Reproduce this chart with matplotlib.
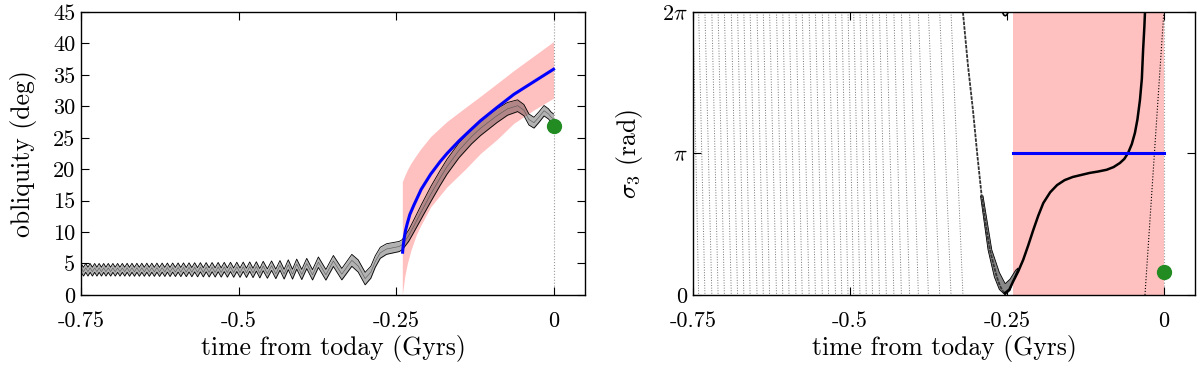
import numpy as np
import matplotlib
matplotlib.use("Agg")
import matplotlib.pyplot as plt

plt.rcParams['font.family'] = 'serif'
plt.rcParams['font.serif'] = ['cmr10']
plt.rcParams['mathtext.fontset'] = 'cm'
plt.rcParams['axes.unicode_minus'] = False

TWO_PI = 2 * np.pi

# ---- left panel: obliquity band (extrema of the fast oscillation, then the rise)
osc_t = [-0.750, -0.746, -0.7425, -0.739, -0.7355, -0.732, -0.7283, -0.7248, -0.7212, -0.7176,
         -0.7140, -0.7104, -0.7067, -0.7030, -0.6994, -0.6957, -0.6919, -0.6882, -0.6844, -0.6806,
         -0.6768, -0.6730, -0.6691, -0.6652, -0.6613, -0.6574, -0.6535, -0.6495, -0.6455, -0.6416,
         -0.6376, -0.6336, -0.6295, -0.6254, -0.6212, -0.6170, -0.6129, -0.6087, -0.6045, -0.6002,
         -0.5959, -0.5916, -0.5873, -0.5829, -0.5785, -0.5741, -0.5696, -0.5650, -0.5605, -0.5559,
         -0.5513, -0.5466, -0.5419, -0.5371, -0.5323, -0.5275, -0.5226, -0.5177, -0.5127, -0.5077,
         -0.5027, -0.4976, -0.4925, -0.4874, -0.4822, -0.4770, -0.4717, -0.4662, -0.4608, -0.4542,
         -0.4475, -0.4408, -0.4342, -0.4276, -0.4210, -0.4143, -0.4076, -0.3996, -0.3917, -0.3825,
         -0.3732, -0.3613, -0.3494, -0.3360, -0.3201, -0.3100, -0.2990,
         -0.290, -0.283, -0.275, -0.265, -0.255, -0.245, -0.240, -0.235, -0.230, -0.222, -0.210,
         -0.195, -0.180, -0.169, -0.150, -0.130, -0.116, -0.090, -0.073, -0.057, -0.047,
         -0.039, -0.031, -0.023, -0.015, -0.008, -0.004, 0.0]
osc_mid = [4.30, 3.70, 4.30, 3.70, 4.30, 3.70, 4.30, 3.70, 4.30, 3.70,
           4.30, 3.70, 4.30, 3.70, 4.30, 3.70, 4.30, 3.70, 4.30, 3.70,
           4.32, 3.68, 4.32, 3.68, 4.32, 3.68, 4.32, 3.68, 4.33, 3.67,
           4.33, 3.67, 4.34, 3.66, 4.34, 3.66, 4.35, 3.65, 4.35, 3.65,
           4.36, 3.64, 4.37, 3.63, 4.38, 3.62, 4.39, 3.61, 4.40, 3.60,
           4.41, 3.59, 4.42, 3.58, 4.43, 3.57, 4.44, 3.56, 4.45, 3.55,
           4.46, 3.54, 4.48, 3.52, 4.50, 3.50, 4.53, 3.45, 4.60, 3.40,
           4.65, 3.35, 4.70, 3.30, 4.80, 3.30, 4.90, 3.25, 5.00, 3.20,
           5.20, 3.20, 5.40, 3.30, 5.50, 4.60, 2.60,
           3.60, 5.30, 6.70, 7.30, 7.50, 7.70, 8.00, 8.70, 9.40, 10.90, 13.20,
           16.00, 18.60, 20.40, 23.00, 25.20, 26.50, 28.50, 29.60, 30.10, 29.40,
           27.90, 27.40, 28.30, 29.30, 28.80, 28.30, 28.00]
band_t = [-0.75, -0.45, -0.36, -0.30, -0.27, -0.24, -0.20, -0.10, -0.05, 0.0]
band_w = [1.4, 1.5, 1.7, 2.0, 1.7, 1.6, 2.4, 2.3, 1.8, 1.6]

# blue model curve
blue_t = [-0.2395, -0.2385, -0.237, -0.235, -0.232, -0.228, -0.222, -0.210, -0.195, -0.180,
          -0.169, -0.150, -0.130, -0.116, -0.090, -0.063, -0.030, 0.0]
blue_v = [6.8, 7.9, 9.0, 10.2, 11.4, 12.8, 14.2, 16.8, 19.2, 21.2, 22.5, 24.5, 26.4, 27.7,
          29.8, 31.9, 34.0, 35.9]

# pink uncertainty region
pink_t = [-0.240, -0.238, -0.236, -0.232, -0.226, -0.218, -0.211, -0.195, -0.169, -0.140,
          -0.116, -0.090, -0.063, -0.030, 0.0]
pink_hi = [18.0, 18.5, 19.0, 19.9, 21.0, 22.2, 23.2, 25.2, 27.6, 29.8, 31.6, 33.6, 35.7,
           38.1, 40.3]
pink_lo = [0.0, 1.5, 3.0, 5.0, 7.2, 9.5, 11.0, 14.0, 17.2, 20.0, 22.5, 24.7, 27.3, 29.5,
           31.3]

obl_today = 26.8

# ---- right panel: sigma_3 (times where it wraps from 2pi down to 0)
wrap_t = [-0.750, -0.741, -0.731, -0.720, -0.710, -0.700, -0.689, -0.679, -0.669, -0.659,
          -0.648, -0.638, -0.628, -0.617, -0.607, -0.597, -0.586, -0.576, -0.565, -0.555,
          -0.544, -0.534, -0.523, -0.513, -0.503, -0.494, -0.484, -0.474, -0.464, -0.453,
          -0.442, -0.430, -0.418, -0.405, -0.391, -0.375, -0.357, -0.339, -0.320]
dip_t = [-0.320, -0.312, -0.304, -0.297, -0.290, -0.283, -0.277, -0.271, -0.266, -0.261,
         -0.256, -0.253]
dip_v = [6.28, 5.10, 4.10, 3.10, 2.18, 1.50, 1.00, 0.66, 0.40, 0.20, 0.07, 0.04]
# spread of points around the turning point (outer and inner edge)
vout_t = [-0.292, -0.280, -0.270, -0.262, -0.2527, -0.245, -0.239, -0.232]
vout_v = [2.20, 1.00, 0.40, 0.12, 0.00, 0.10, 0.35, 0.60]
vin_t = [-0.288, -0.274, -0.262, -0.2527, -0.245, -0.236, -0.232]
vin_v = [2.20, 1.00, 0.50, 0.25, 0.35, 0.55, 0.60]
sig_t = [-0.253, -0.246, -0.240, -0.232, -0.224, -0.216, -0.208, -0.200, -0.192,
         -0.181, -0.170, -0.158, -0.145, -0.130, -0.118, -0.105, -0.091, -0.080, -0.070,
         -0.063, -0.057, -0.051, -0.046, -0.042, -0.038, -0.035, -0.033, -0.031, -0.030]
sig_v = [0.04, 0.12, 0.30, 0.52, 0.78, 1.10, 1.44, 1.76, 2.04,
         2.28, 2.44, 2.55, 2.62, 2.67, 2.71, 2.74, 2.78, 2.84, 2.93,
         3.02, 3.15, 3.35, 3.60, 3.90, 4.33, 4.80, 5.44, 5.95, 6.28]
last_t = [-0.030, 0.0]
last_v = [0.0, 6.28]
blob_t = [-0.257, -0.255, -0.2527, -0.250, -0.248]
blob_v = [6.28, 6.22, 6.20, 6.22, 6.28]
pink_start = -0.24
sigma_model = np.pi
sigma_today = 0.51

PINK = '#ffc0c0'
BLUE = '#0000ff'
GREEN = '#228b22'

fig = plt.figure(figsize=(12, 3.65), dpi=100)
ax1 = fig.add_axes([0.0675, 0.192, 0.42, 0.775])
ax2 = fig.add_axes([0.5775, 0.192, 0.4185, 0.775])

# left panel
ax1.fill_between(pink_t, pink_lo, pink_hi, color=PINK, lw=0, zorder=1)
ax1.axvline(0, color='#999999', lw=0.8, ls=':', zorder=1.5)
t = np.array(osc_t)
mid = np.array(osc_mid)
w = np.interp(t, band_t, band_w)
ax1.fill_between(t, mid - w / 2, mid + w / 2, color='k', alpha=0.3, lw=0, zorder=2)
ax1.plot(t, mid + w / 2, color='k', lw=0.6, zorder=2.5)
ax1.plot(t, mid - w / 2, color='k', lw=0.6, zorder=2.5)
ax1.plot(t, mid, color='#555555', lw=0.4, zorder=2.5)
ax1.plot(blue_t, blue_v, color=BLUE, lw=2.2, zorder=3)
ax1.plot([0], [obl_today], 'o', color=GREEN, ms=10, zorder=4, clip_on=False)

ax1.set_xlim(-0.75, 0.05)
ax1.set_ylim(0, 45)
ax1.set_xticks([-0.75, -0.5, -0.25, 0])
ax1.set_xticklabels(['-0.75', '-0.5', '-0.25', '0'])
ax1.set_yticks(range(0, 46, 5))
ax1.set_yticklabels([str(v) for v in range(0, 46, 5)])
ax1.set_xlabel('time from today (Gyrs)', fontsize=18.5, labelpad=3)
ax1.set_ylabel('obliquity (deg)', fontsize=18.5, labelpad=12)

# right panel
ax2.axvspan(pink_start, 0, color=PINK, lw=0, zorder=1)
ax2.axvline(0, color='#999999', lw=0.8, ls=':', zorder=1.5)
for i in range(len(wrap_t) - 1):
    ax2.plot([wrap_t[i], wrap_t[i + 1]], [TWO_PI, 0], color='k', lw=0.7, ls=':',
             alpha=0.55, zorder=2)
ax2.plot(dip_t, dip_v, color='#333333', lw=1.3, ls=(0, (2, 0.6)), zorder=2.5)
ax2.fill(vout_t + vin_t[::-1], vout_v + vin_v[::-1], facecolor='#888888',
         edgecolor='k', lw=0.6, zorder=2.4)
ax2.plot(sig_t, sig_v, color='k', lw=1.8, zorder=2.5)
ax2.plot(last_t, last_v, color='k', lw=0.8, ls=':', zorder=2.5)
ax2.plot(blob_t, blob_v, color='k', lw=1.2, zorder=2.5)
ax2.plot([pink_start, 0], [sigma_model, sigma_model], color=BLUE, lw=2.2, zorder=3)
ax2.plot([0], [sigma_today], 'o', color=GREEN, ms=10, zorder=4, clip_on=False)

ax2.set_xlim(-0.75, 0.05)
ax2.set_ylim(0, TWO_PI)
ax2.set_xticks([-0.75, -0.5, -0.25, 0])
ax2.set_xticklabels(['-0.75', '-0.5', '-0.25', '0'])
ax2.set_yticks([0, np.pi, TWO_PI])
ax2.set_yticklabels(['0', r'$\pi$', r'$2\pi$'])
ax2.set_xlabel('time from today (Gyrs)', fontsize=18.5, labelpad=3)
ax2.set_ylabel(r'$\sigma_3$ (rad)', fontsize=18.5, labelpad=12)

for ax in (ax1, ax2):
    ax.tick_params(direction='in', top=True, right=True, length=6, width=0.8,
                   labelsize=16)
    ax.tick_params(axis='x', pad=12)
    ax.tick_params(axis='y', pad=4)
    for s in ax.spines.values():
        s.set_linewidth(1.0)

fig.savefig('out.png', dpi=100)
